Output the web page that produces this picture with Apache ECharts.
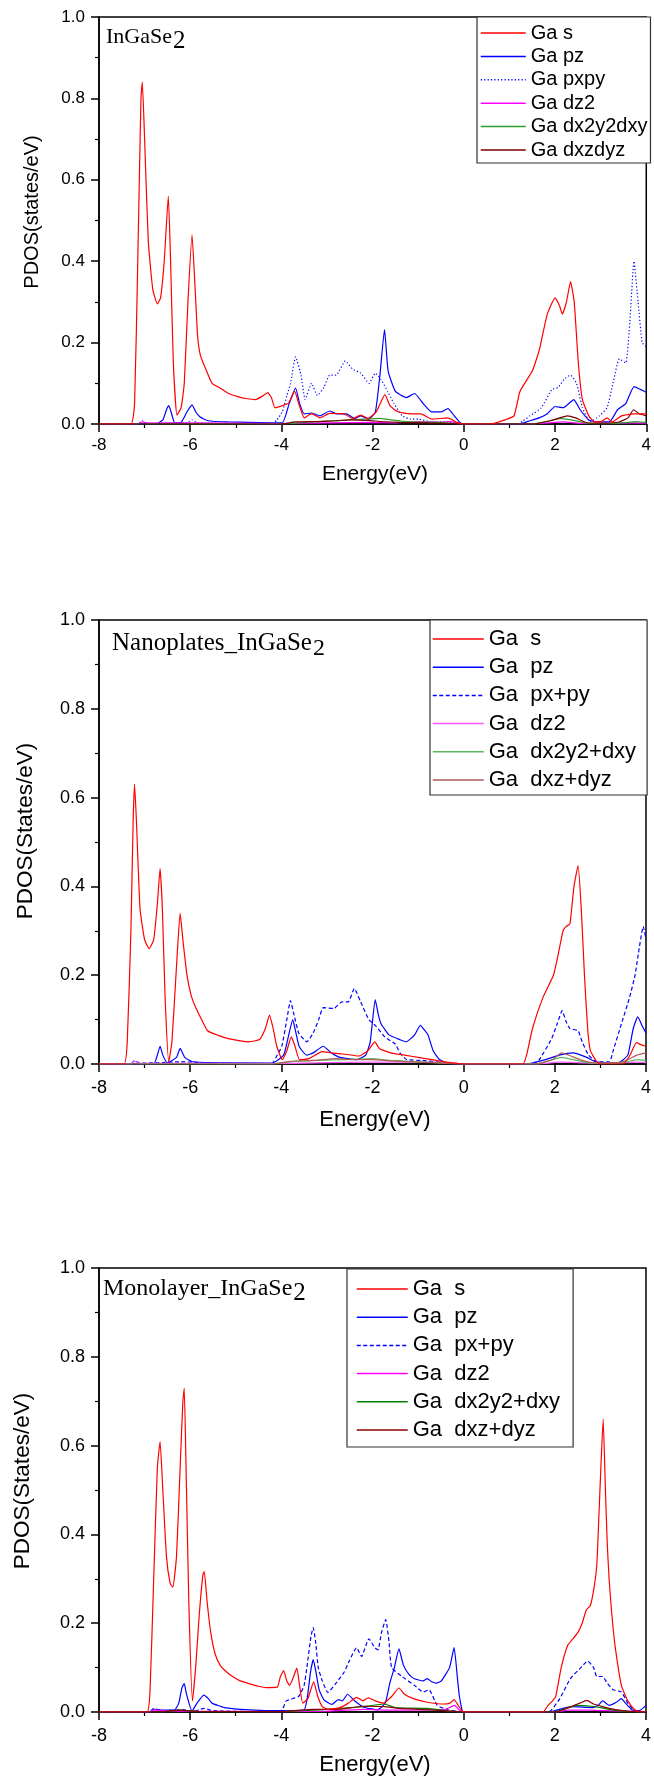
<!DOCTYPE html>
<html>
<head>
<meta charset="utf-8">
<script src="https://cdn.jsdelivr.net/npm/echarts@6/dist/echarts.min.js"></script>
<style>
  html, body { margin: 0; padding: 0; background: #fff; }
  #chart { width: 654px; height: 1784px; }
</style>
</head>
<body>
<div id="chart"></div>
<script>
// ---- Projected DOS of Ga orbitals, energy (eV) vs states/eV ----
// Bulk InGaSe2
const bulkS = [[-8,0],[-7.3,0],[-7.22,0.05],[-7.15,0.4],[-7.08,0.8],[-7.05,0.84],[-7.0,0.7],[-6.92,0.45],[-6.82,0.33],[-6.72,0.295],[-6.65,0.31],[-6.57,0.4],[-6.48,0.56],[-6.43,0.4],[-6.37,0.15],[-6.29,0.022],[-6.2,0.04],[-6.13,0.1],[-6.05,0.3],[-5.96,0.465],[-5.9,0.35],[-5.84,0.22],[-5.78,0.17],[-5.66,0.135],[-5.52,0.1],[-5.34,0.088],[-5.16,0.075],[-4.98,0.068],[-4.75,0.062],[-4.57,0.06],[-4.42,0.068],[-4.3,0.077],[-4.22,0.065],[-4.14,0.04],[-3.98,0.045],[-3.84,0.052],[-3.71,0.08],[-3.62,0.05],[-3.5,0.015],[-3.4,0.022],[-3.33,0.025],[-3.16,0.015],[-2.94,0.026],[-2.62,0.025],[-2.44,0.013],[-2.26,0.022],[-2.1,0.014],[-1.92,0.03],[-1.73,0.072],[-1.62,0.045],[-1.45,0.03],[-1.17,0.025],[-0.94,0.025],[-0.7,0.012],[-0.35,0.015],[-0.17,0.005],[0,0],[0.6,0],[0.9,0.01],[1.1,0.02],[1.23,0.08],[1.5,0.13],[1.65,0.18],[1.83,0.27],[2.0,0.31],[2.1,0.29],[2.16,0.27],[2.25,0.3],[2.34,0.35],[2.42,0.3],[2.51,0.15],[2.6,0.06],[2.74,0.02],[2.87,0.005],[3.0,0.005],[3.14,0.015],[3.25,0.005],[3.46,0.02],[3.73,0.025],[4.0,0.025]];
const bulkPz = [[-8,0],[-6.75,0],[-6.6,0.01],[-6.52,0.035],[-6.47,0.045],[-6.42,0.03],[-6.34,0.003],[-6.2,0.004],[-6.07,0.03],[-5.96,0.047],[-5.88,0.03],[-5.79,0.018],[-5.61,0.008],[-5.16,0.005],[-4.25,0.003],[-3.98,0.003],[-3.83,0.05],[-3.69,0.088],[-3.6,0.05],[-3.5,0.025],[-3.33,0.027],[-3.16,0.02],[-2.94,0.032],[-2.8,0.025],[-2.57,0.025],[-2.39,0.013],[-2.26,0.02],[-2.08,0.012],[-1.94,0.03],[-1.84,0.12],[-1.74,0.232],[-1.66,0.13],[-1.5,0.08],[-1.26,0.065],[-1.08,0.075],[-0.89,0.05],[-0.71,0.03],[-0.49,0.03],[-0.35,0.038],[-0.21,0.02],[-0.08,0.003],[0,0],[1.2,0],[1.45,0.008],[1.65,0.015],[1.83,0.025],[2.0,0.043],[2.18,0.04],[2.41,0.06],[2.55,0.035],[2.74,0.01],[2.92,0.005],[3.19,0.005],[3.37,0.035],[3.55,0.05],[3.73,0.092],[3.87,0.085],[4.0,0.078]];
const bulkPxPy = [[-8,0],[-7.15,0],[-7.05,0.008],[-6.95,0.002],[-6.05,0.003],[-5.96,0.01],[-5.85,0.003],[-4.2,0],[-4.1,0.01],[-3.98,0.03],[-3.88,0.07],[-3.8,0.1],[-3.69,0.165],[-3.57,0.12],[-3.48,0.06],[-3.34,0.1],[-3.21,0.07],[-3.07,0.09],[-2.94,0.12],[-2.8,0.12],[-2.6,0.155],[-2.44,0.135],[-2.26,0.125],[-2.08,0.1],[-1.94,0.125],[-1.82,0.11],[-1.67,0.08],[-1.53,0.05],[-1.35,0.02],[-1.17,0.012],[-0.99,0.012],[-0.71,0.005],[-0.35,0.005],[0,0],[1.2,0],[1.3,0.008],[1.45,0.02],[1.7,0.04],[1.93,0.085],[2.07,0.09],[2.2,0.11],[2.34,0.12],[2.47,0.1],[2.6,0.04],[2.77,0.005],[2.97,0.02],[3.14,0.04],[3.27,0.1],[3.41,0.16],[3.55,0.15],[3.64,0.25],[3.73,0.4],[3.82,0.3],[3.91,0.2],[4.0,0.19]];
const bulkDz2 = [[-8,0],[-7.15,0],[-7.05,0.005],[-6.9,0.002],[-6.5,0.003],[-4,0.001],[-3,0.003],[-2,0.004],[-1.5,0.003],[-1.0,0.006],[-0.5,0.004],[-0.3,0.006],[0,0],[1.5,0],[2.0,0.004],[2.2,0.005],[2.5,0.002],[3.0,0.001],[3.7,0.003],[4,0.002]];
const bulkDx2y2Dxy = [[-8,0],[-4,0],[-3.5,0.004],[-3,0.007],[-2.5,0.01],[-2.2,0.012],[-1.85,0.014],[-1.6,0.01],[-1.2,0.005],[-0.5,0.004],[0,0],[1.5,0],[1.8,0.006],[2.1,0.013],[2.35,0.01],[2.7,0.002],[3.2,0.001],[3.6,0.004],[3.75,0.006],[4,0.004]];
const bulkDxzDyz = [[-8,0],[-4,0],[-3.7,0.005],[-3.2,0.006],[-2.8,0.008],[-2.5,0.01],[-2.1,0.009],[-1.8,0.006],[-1.4,0.004],[-0.8,0.003],[0,0],[1.5,0],[1.9,0.008],[2.1,0.015],[2.27,0.02],[2.45,0.015],[2.7,0.003],[3.0,0.002],[3.4,0.005],[3.6,0.015],[3.72,0.035],[3.85,0.025],[4,0.02]];

// Nanoplates InGaSe2
const nanoS = [[-8,0],[-7.45,0],[-7.38,0.05],[-7.3,0.3],[-7.25,0.55],[-7.22,0.63],[-7.18,0.55],[-7.1,0.35],[-7.0,0.28],[-6.9,0.26],[-6.8,0.28],[-6.72,0.36],[-6.66,0.44],[-6.61,0.35],[-6.55,0.15],[-6.47,0.005],[-6.4,0.05],[-6.3,0.22],[-6.22,0.34],[-6.16,0.28],[-6.07,0.2],[-5.98,0.155],[-5.89,0.13],[-5.75,0.1],[-5.62,0.075],[-5.4,0.065],[-5.16,0.057],[-4.9,0.052],[-4.71,0.05],[-4.48,0.055],[-4.35,0.08],[-4.26,0.11],[-4.18,0.08],[-4.1,0.04],[-3.98,0.01],[-3.88,0.03],[-3.78,0.061],[-3.7,0.04],[-3.6,0.01],[-3.4,0.012],[-3.1,0.028],[-2.9,0.025],[-2.6,0.022],[-2.3,0.018],[-2.1,0.03],[-1.95,0.05],[-1.85,0.035],[-1.6,0.025],[-1.3,0.02],[-1.0,0.015],[-0.6,0.008],[-0.3,0.003],[0,0],[1.3,0],[1.38,0.02],[1.51,0.08],[1.74,0.15],[1.97,0.2],[2.06,0.24],[2.18,0.3],[2.25,0.31],[2.33,0.315],[2.42,0.4],[2.51,0.447],[2.58,0.35],[2.65,0.2],[2.72,0.08],[2.78,0.03],[2.92,0.005],[3.0,0],[3.5,0],[3.65,0.02],[3.79,0.048],[3.9,0.043],[4.0,0.04]];
const nanoPz = [[-8,0],[-6.8,0],[-6.72,0.02],[-6.66,0.04],[-6.6,0.02],[-6.5,0.003],[-6.3,0.015],[-6.22,0.035],[-6.12,0.015],[-5.95,0.005],[-5.5,0.003],[-4.2,0.002],[-3.95,0.02],[-3.85,0.06],[-3.75,0.1],[-3.68,0.07],[-3.61,0.04],[-3.45,0.02],[-3.3,0.025],[-3.08,0.04],[-2.9,0.025],[-2.71,0.015],[-2.35,0.01],[-2.15,0.02],[-2.05,0.05],[-1.94,0.145],[-1.87,0.11],[-1.81,0.09],[-1.63,0.065],[-1.4,0.055],[-1.26,0.05],[-1.08,0.065],[-0.95,0.087],[-0.85,0.075],[-0.78,0.065],[-0.67,0.03],[-0.53,0.01],[-0.3,0],[0,0],[1.4,0],[1.8,0.01],[2.1,0.02],[2.4,0.025],[2.7,0.015],[2.9,0.005],[3.4,0.003],[3.6,0.02],[3.72,0.08],[3.82,0.106],[3.92,0.085],[4.0,0.07]];
const nanoPxPy = [[-8,0],[-7.3,0],[-7.22,0.008],[-7.1,0.002],[-6.7,0.003],[-6.22,0.005],[-5.5,0.002],[-4.2,0],[-4.17,0.005],[-3.99,0.04],[-3.88,0.1],[-3.8,0.143],[-3.72,0.11],[-3.62,0.07],[-3.5,0.055],[-3.44,0.05],[-3.3,0.07],[-3.18,0.1],[-3.08,0.127],[-2.85,0.125],[-2.67,0.14],[-2.53,0.14],[-2.4,0.17],[-2.26,0.14],[-2.08,0.1],[-1.94,0.087],[-1.72,0.06],[-1.5,0.045],[-1.4,0.025],[-1.25,0.01],[-0.9,0.008],[-0.6,0.005],[0,0],[1.5,0],[1.66,0.01],[1.93,0.057],[2.05,0.09],[2.16,0.12],[2.25,0.095],[2.33,0.08],[2.51,0.075],[2.6,0.05],[2.74,0.02],[2.92,0.005],[3.2,0.005],[3.28,0.03],[3.46,0.09],[3.64,0.15],[3.76,0.2],[3.82,0.24],[3.94,0.31],[4.0,0.28]];
const nanoDz2 = [[-8,0],[-7.3,0],[-7.22,0.006],[-7.1,0.002],[-4,0.001],[-3,0.003],[-2,0.004],[-1,0.004],[-0.3,0.003],[0,0],[1.6,0],[2.1,0.004],[2.5,0.003],[3,0.001],[3.8,0.004],[4,0.003]];
const nanoDx2y2Dxy = [[-8,0],[-4.2,0],[-3.8,0.005],[-3.2,0.008],[-2.6,0.01],[-2.0,0.012],[-1.6,0.008],[-1.0,0.005],[-0.4,0.002],[0,0],[1.6,0],[1.9,0.008],[2.15,0.015],[2.4,0.01],[2.8,0.002],[3.5,0.003],[3.8,0.01],[4,0.008]];
const nanoDxzDyz = [[-8,0],[-4.2,0],[-3.8,0.006],[-3.3,0.008],[-2.8,0.012],[-2.4,0.01],[-2.0,0.01],[-1.6,0.007],[-1.0,0.004],[0,0],[1.6,0],[1.95,0.01],[2.15,0.025],[2.35,0.018],[2.6,0.008],[2.9,0.002],[3.5,0.005],[3.8,0.02],[4,0.025]];

// Monolayer InGaSe2
const monoS = [[-8,0],[-6.95,0],[-6.88,0.05],[-6.8,0.3],[-6.72,0.55],[-6.66,0.609],[-6.6,0.5],[-6.52,0.35],[-6.44,0.29],[-6.38,0.281],[-6.3,0.35],[-6.22,0.55],[-6.16,0.7],[-6.13,0.729],[-6.09,0.55],[-6.03,0.25],[-5.95,0.025],[-5.88,0.1],[-5.8,0.22],[-5.72,0.31],[-5.69,0.316],[-5.63,0.25],[-5.55,0.18],[-5.45,0.13],[-5.34,0.105],[-5.2,0.09],[-5.07,0.08],[-4.9,0.07],[-4.71,0.064],[-4.5,0.058],[-4.34,0.055],[-4.09,0.056],[-4.02,0.08],[-3.95,0.093],[-3.88,0.07],[-3.82,0.06],[-3.73,0.08],[-3.66,0.099],[-3.6,0.06],[-3.53,0.02],[-3.42,0.03],[-3.29,0.068],[-3.2,0.035],[-3.1,0.012],[-2.98,0.006],[-2.71,0.01],[-2.53,0.02],[-2.35,0.033],[-2.21,0.025],[-2.09,0.032],[-1.94,0.025],[-1.76,0.02],[-1.58,0.035],[-1.42,0.054],[-1.3,0.04],[-1.1,0.03],[-0.8,0.022],[-0.44,0.018],[-0.3,0.02],[-0.21,0.028],[-0.12,0.015],[-0.03,0.002],[0,0],[1.74,0],[1.85,0.015],[1.95,0.025],[2.02,0.035],[2.14,0.1],[2.28,0.15],[2.4,0.165],[2.51,0.18],[2.6,0.2],[2.69,0.23],[2.78,0.24],[2.86,0.28],[2.92,0.33],[2.97,0.45],[3.01,0.55],[3.06,0.66],[3.11,0.5],[3.15,0.38],[3.19,0.3],[3.25,0.22],[3.32,0.15],[3.46,0.06],[3.6,0.025],[3.75,0.005],[3.85,0],[4,0]];
const monoPz = [[-8,0],[-6.85,0],[-6.79,0.006],[-6.6,0.004],[-6.34,0.005],[-6.25,0.02],[-6.18,0.055],[-6.13,0.064],[-6.08,0.04],[-5.96,0.002],[-5.85,0.02],[-5.7,0.038],[-5.6,0.03],[-5.52,0.02],[-5.25,0.01],[-4.71,0.005],[-3.98,0.003],[-3.5,0.005],[-3.42,0.04],[-3.36,0.09],[-3.3,0.118],[-3.24,0.09],[-3.17,0.05],[-3.07,0.028],[-2.89,0.017],[-2.75,0.028],[-2.66,0.025],[-2.55,0.04],[-2.39,0.025],[-2.17,0.01],[-1.89,0.005],[-1.72,0.02],[-1.62,0.065],[-1.52,0.1],[-1.42,0.142],[-1.32,0.105],[-1.2,0.085],[-1.08,0.075],[-0.89,0.07],[-0.8,0.075],[-0.7,0.068],[-0.6,0.065],[-0.49,0.07],[-0.31,0.1],[-0.21,0.145],[-0.14,0.08],[-0.1,0.04],[-0.03,0.002],[0,0],[1.9,0],[2.0,0.003],[2.37,0.012],[2.83,0.01],[2.95,0.015],[3.05,0.025],[3.19,0.015],[3.35,0.022],[3.46,0.03],[3.55,0.02],[3.69,0.005],[3.85,0.003],[4,0.015]];
const monoPxPy = [[-8,0],[-6.9,0],[-6.8,0.008],[-6.6,0.003],[-6.13,0.005],[-5.95,0.001],[-5.7,0.008],[-5.5,0.003],[-4.05,0],[-3.98,0.005],[-3.89,0.025],[-3.62,0.035],[-3.5,0.06],[-3.44,0.1],[-3.35,0.17],[-3.3,0.19],[-3.25,0.16],[-3.19,0.1],[-3.1,0.07],[-2.98,0.044],[-2.8,0.065],[-2.62,0.09],[-2.51,0.115],[-2.35,0.145],[-2.24,0.125],[-2.08,0.165],[-1.95,0.145],[-1.88,0.14],[-1.8,0.18],[-1.71,0.208],[-1.64,0.16],[-1.58,0.1],[-1.35,0.08],[-1.08,0.06],[-0.89,0.045],[-0.76,0.05],[-0.58,0.015],[-0.35,0.005],[0,0],[1.85,0],[1.93,0.005],[2.11,0.03],[2.34,0.075],[2.57,0.1],[2.72,0.115],[2.85,0.1],[2.92,0.08],[3.05,0.08],[3.15,0.065],[3.28,0.05],[3.46,0.045],[3.6,0.02],[3.73,0.005],[3.85,0],[4,0]];
const monoDz2 = [[-8,0],[-6.9,0],[-6.8,0.005],[-6.5,0.002],[-4,0.001],[-3,0.002],[-2.2,0.006],[-1.5,0.004],[-0.8,0.005],[-0.4,0.006],[-0.2,0.015],[-0.1,0.005],[0,0],[2.0,0],[2.3,0.004],[2.7,0.004],[3.1,0.003],[3.5,0.002],[4,0.001]];
const monoDx2y2Dxy = [[-8,0],[-6.7,0],[-6.2,0.004],[-5.8,0.001],[-4,0.001],[-3.3,0.004],[-2.7,0.008],[-2.2,0.012],[-1.75,0.018],[-1.5,0.01],[-0.8,0.008],[-0.3,0.002],[0,0],[2.0,0],[2.3,0.01],[2.5,0.015],[2.8,0.013],[3.0,0.01],[3.3,0.004],[3.6,0.001],[4,0]];
const monoDxzDyz = [[-8,0],[-6.7,0],[-6.2,0.004],[-5.8,0.001],[-4,0.001],[-3.3,0.006],[-2.8,0.006],[-2.2,0.013],[-1.75,0.012],[-1.4,0.008],[-0.8,0.005],[-0.3,0.002],[0,0],[2.0,0],[2.3,0.01],[2.55,0.02],[2.7,0.026],[2.85,0.018],[3.05,0.012],[3.3,0.006],[3.6,0.002],[4,0]];

// Legend labels
const bulkNames = ['Ga s', 'Ga pz', 'Ga pxpy', 'Ga dz2', 'Ga dx2y2dxy', 'Ga dxzdyz'];
const layerNames = ['Ga  s', 'Ga  pz', 'Ga  px+py', 'Ga  dz2', 'Ga  dx2y2+dxy', 'Ga  dxz+dyz'];

// Axis ticks
const energyTicks = { min: -8, max: 4, interval: 2 };
const pdosTicks = { min: 0, max: 1, interval: 0.2 };

const SANS = '"Liberation Sans", Arial, sans-serif';
const SERIF = '"Liberation Serif", "Times New Roman", serif';

const panels = [
  {
    key: 'bulk', grid: { left: 99, top: 17, width: 552, height: 407 },
    names: bulkNames,
    data: [bulkS, bulkPz, bulkPxPy, bulkDz2, bulkDx2y2Dxy, bulkDxzDyz],
    colors: ['#ff0000', '#0000ff', '#0000ff', '#ff00ff', '#2e9e2e', '#7a0000'],
    pxDash: [1.2, 2.2],
    tickFont: 17, labelMargin: 13,
    legend: { left: 477, top: 17, padding: [6, 3, 3, 3], itemWidth: 45, fontSize: 20, lineHeight: 20, itemGap: 3.4 }
  },
  {
    key: 'nano', grid: { left: 99, top: 620, width: 552, height: 444 },
    names: layerNames,
    data: [nanoS, nanoPz, nanoPxPy, nanoDz2, nanoDx2y2Dxy, nanoDxzDyz],
    colors: ['#ff0000', '#0000ff', '#0000ff', '#ff55ff', '#5cb85c', '#b05a5a'],
    pxDash: [4, 2.5],
    tickFont: 18, labelMargin: 15,
    legend: { left: 430, top: 620, padding: [7, 11, 3, 2], itemWidth: 51, fontSize: 22, lineHeight: 24, itemGap: 4.2 }
  },
  {
    key: 'mono', grid: { left: 99, top: 1268, width: 552, height: 444 },
    names: layerNames,
    data: [monoS, monoPz, monoPxPy, monoDz2, monoDx2y2Dxy, monoDxzDyz],
    colors: ['#ff0000', '#0000ff', '#0000ff', '#ff00ff', '#008000', '#8b0000'],
    pxDash: [4, 2.5],
    tickFont: 18, labelMargin: 15,
    legend: { left: 347, top: 1269, padding: [8, 13, 5, 9], itemWidth: 51, fontSize: 22, lineHeight: 24, itemGap: 4.2 }
  }
];

const grid = [], xAxis = [], yAxis = [], series = [], legend = [];

panels.forEach((p, i) => {
  grid.push(Object.assign({ show: true, borderColor: '#000', borderWidth: 1.5, backgroundColor: 'transparent' }, p.grid));
  const line = { show: true, onZero: false, lineStyle: { color: '#000', width: 1.5 } };
  xAxis.push({
    type: 'value', gridIndex: i,
    min: energyTicks.min, max: energyTicks.max, interval: energyTicks.interval,
    axisLine: line,
    axisTick: { show: true, inside: false, length: 8, lineStyle: { color: '#000', width: 1.5 } },
    minorTick: { show: true, splitNumber: 2, length: 4, lineStyle: { color: '#000', width: 1.2 } },
    splitLine: { show: false }, minorSplitLine: { show: false },
    axisLabel: { color: '#000', fontSize: p.tickFont, fontFamily: SANS, margin: p.labelMargin }
  });
  yAxis.push({
    type: 'value', gridIndex: i,
    min: pdosTicks.min, max: pdosTicks.max, interval: pdosTicks.interval,
    axisLine: line,
    axisTick: { show: true, inside: false, length: 8, lineStyle: { color: '#000', width: 1.5 } },
    minorTick: { show: true, splitNumber: 2, length: 4, lineStyle: { color: '#000', width: 1.2 } },
    splitLine: { show: false }, minorSplitLine: { show: false },
    axisLabel: { color: '#000', fontSize: p.tickFont, fontFamily: SANS, margin: 14, formatter: v => v.toFixed(1) }
  });
  const ids = p.names.map(n => p.key + '|' + n);
  p.data.forEach((d, k) => {
    series.push({
      type: 'line', name: ids[k], xAxisIndex: i, yAxisIndex: i,
      data: d, symbol: 'none', smooth: 0.15, animation: false,
      color: p.colors[k],
      lineStyle: { color: p.colors[k], width: 1.2, type: k === 2 ? p.pxDash : 'solid' },
      z: 2 + (k === 0 ? 1 : 0)
    });
  });
  legend.push({
    orient: 'vertical', left: p.legend.left, top: p.legend.top,
    padding: p.legend.padding, itemGap: p.legend.itemGap,
    itemWidth: p.legend.itemWidth, itemHeight: 14,
    itemStyle: { opacity: 0 },
    lineStyle: { width: 1.5 },
    borderColor: '#333', borderWidth: 1.2, backgroundColor: '#fff',
    data: ids, selectedMode: false,
    formatter: name => name.split('|')[1],
    textStyle: { color: '#000', fontSize: p.legend.fontSize, fontFamily: SANS, lineHeight: p.legend.lineHeight }
  });
});

// Panel captions: compound name followed by an enlarged, lowered "2"
const measureCtx = document.createElement('canvas').getContext('2d');
function textWidth(text, size, family) {
  measureCtx.font = size + 'px ' + family;
  return measureCtx.measureText(text).width;
}
function label(text, x, y, size, family) {
  return {
    type: 'text', x: x, y: y, silent: true,
    style: { text: text, fill: '#000', font: size + 'px ' + family, align: 'left', verticalAlign: 'bottom' }
  };
}
function caption(text, x, y, size, subSize, drop) {
  const w = textWidth(text, size, SERIF);
  return [label(text, x, y, size, SERIF), label('2', x + w + 1, y + drop, subSize, SERIF)];
}
function centered(text, x, y, size, rotate) {
  return {
    type: 'text', x: x, y: y, rotation: rotate ? Math.PI / 2 : 0, silent: true,
    style: { text: text, fill: '#000', font: size + 'px ' + SANS, align: 'center', verticalAlign: 'middle' }
  };
}

const graphic = [].concat(
  caption('InGaSe', 106, 48, 22, 25, 6),
  caption('Nanoplates_InGaSe', 112, 656, 25, 24, 5),
  caption('Monolayer_InGaSe', 103, 1301, 24, 25, 5),
  [
    centered('PDOS(states/eV)', 32, 212, 20, true),
    centered('PDOS(States/eV)', 26, 831, 22.5, true),
    centered('PDOS(States/eV)', 23, 1481, 22.5, true),
    centered('Energy(eV)', 375, 474, 21),
    centered('Energy(eV)', 375, 1120, 22),
    centered('Energy(eV)', 375, 1765, 22)
  ]
);

const chart = echarts.init(document.getElementById('chart'), null, { renderer: 'canvas' });
chart.setOption({
  animation: false,
  backgroundColor: '#fff',
  grid: grid, xAxis: xAxis, yAxis: yAxis, series: series, legend: legend, graphic: graphic
});
</script>
</body>
</html>
